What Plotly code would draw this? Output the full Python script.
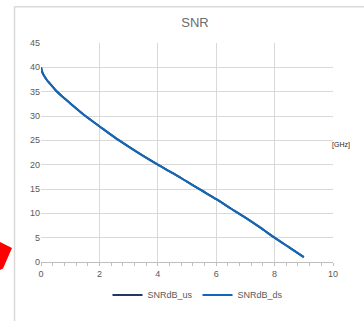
import plotly.graph_objects as go

freq_ghz = [0, 0.05, 0.1, 0.2, 0.3, 0.5, 0.75, 1, 1.5, 2, 2.5, 3, 3.5, 4,
            4.5, 5, 5.5, 6, 6.5, 7, 7.5, 8, 8.5, 9]
snr_us = [40, 38.9, 38.3, 37.4, 36.7, 35.3, 33.9, 32.6, 30.1, 27.9, 25.7, 23.7,
          21.8, 20.0, 18.3, 16.5, 14.7, 12.9, 11.0, 9.1, 7.1, 5.0, 3.0, 1.0]
snr_ds = [40, 38.9, 38.3, 37.4, 36.7, 35.3, 33.9, 32.6, 30.1, 27.9, 25.7, 23.7,
          21.8, 20.0, 18.3, 16.5, 14.7, 12.9, 11.0, 9.1, 7.1, 5.0, 3.0, 1.0]
x_ticks = [0, 2, 4, 6, 8, 10]
y_ticks = [0, 5, 10, 15, 20, 25, 30, 35, 40, 45]

W, H = 364, 321
L, R, T, B = 41, 31, 43, 45
PW, PH = W - L - R, H - T - B


def px(x):
    return (x - L) / PW


def py(y):
    return (H - B - y) / PH


gray = "#595959"
fnt = "Liberation Sans"

fig = go.Figure()
fig.add_trace(go.Scatter(x=freq_ghz, y=snr_us, mode="lines", name="SNRdB_us",
                         line=dict(color="#203864", width=2, shape="spline",
                                   smoothing=0.8)))
fig.add_trace(go.Scatter(x=freq_ghz, y=snr_ds, mode="lines", name="SNRdB_ds",
                         line=dict(color="#1268B8", width=2, shape="spline",
                                   smoothing=0.8)))

fig.update_layout(
    width=W, height=H,
    margin=dict(l=L, r=R, t=T, b=B),
    paper_bgcolor="white", plot_bgcolor="white",
    font=dict(family=fnt, color=gray, size=9),
    title=dict(text="SNR", x=px(195), xref="paper", xanchor="center",
               y=1 - 22 / H, yanchor="middle",
               font=dict(size=13, color="#6b6b6b", family=fnt)),
    showlegend=True,
    legend=dict(orientation="h", x=px(198), xanchor="center",
                y=py(311), yanchor="middle", font=dict(size=9, color=gray),
                itemwidth=30, bgcolor="rgba(0,0,0,0)"),
    xaxis=dict(range=[0, 10], tickvals=x_ticks, showgrid=True,
               gridcolor="#d9d9d9", gridwidth=1, zeroline=False,
               showline=True, linecolor="#bfbfbf", linewidth=1,
               ticks="outside", ticklen=3, tickcolor="#bfbfbf",
               minor=dict(tickvals=[i * 0.4 for i in range(26)],
                          ticks="outside", ticklen=3,
                          tickcolor="#bfbfbf", showgrid=False),
               tickfont=dict(size=9, color=gray), fixedrange=True),
    yaxis=dict(range=[0, 45], tickvals=y_ticks, showgrid=True,
               gridcolor="#d9d9d9", gridwidth=1, zeroline=False,
               showline=False, ticks="", tickfont=dict(size=9, color=gray),
               fixedrange=True),
)

# chart area border (partially cropped)
fig.add_shape(type="line", xref="paper", yref="paper",
              x0=px(14.5), x1=px(14.5), y0=py(4), y1=py(340),
              line=dict(color="#d9d9d9", width=1.5))
fig.add_shape(type="line", xref="paper", yref="paper",
              x0=px(14.5), x1=px(380), y0=py(4.5), y1=py(4.5),
              line=dict(color="#d9d9d9", width=1.5))

# red arrow fragment at the left edge
pts = [(-5, 252), (12, 261), (3, 283), (-5, 287)]
path = "M " + " L ".join(f"{px(a)},{py(b)}" for a, b in pts) + " Z"
fig.add_shape(type="path", xref="paper", yref="paper", path=path,
              fillcolor="#ff0000", line=dict(color="#ff0000", width=0))

fig.add_annotation(text="[GHz]", xref="paper", yref="paper",
                   x=px(352), y=py(152), showarrow=False,
                   font=dict(size=7, color="#262626", family=fnt))

fig.write_html("out.html")
